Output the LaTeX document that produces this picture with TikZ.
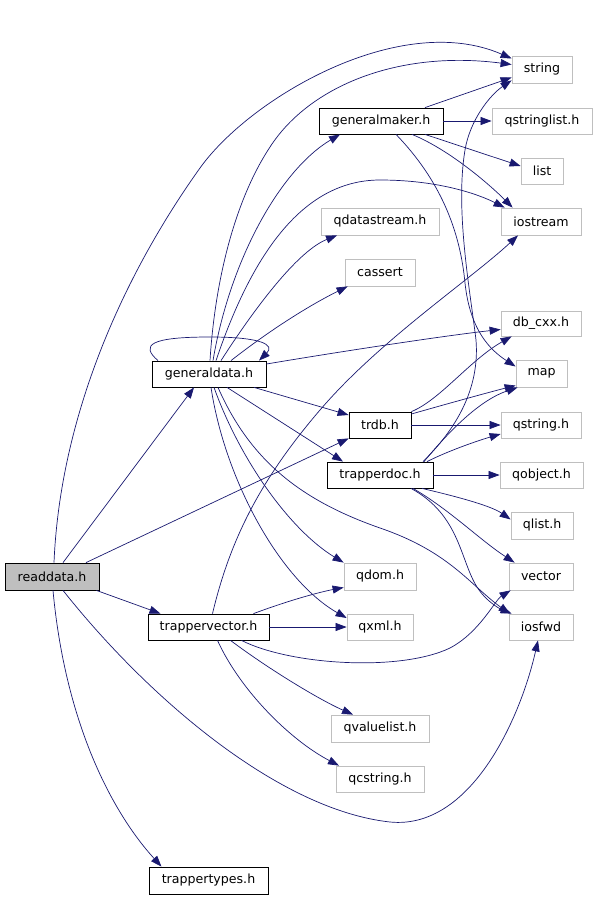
\documentclass[tikz,border=0pt]{standalone}
\usepackage{fontspec}
\setmainfont{DejaVu Sans}
\usepackage{tikz}
\usetikzlibrary{arrows.meta}
\usepackage{xcolor}

\definecolor{edgeblue}{RGB}{25,25,112}
\definecolor{boxgray}{RGB}{191,191,191}

\begin{document}
\begin{tikzpicture}[x=1pt, y=-1pt,
        % Define the styles for the headers and the include arrows
        hdr/.style={draw=black, line width=0.8pt, rectangle, inner sep=0pt,
            minimum height=26pt, font=\fontsize{12.6}{14}\selectfont},
        sys/.style={hdr, draw=boxgray},
        dep/.style={draw=edgeblue, line width=0.7pt,
            -{Triangle[length=11pt, width=8pt]}}]

        \useasboundingbox (0,0) rectangle (597,899);

        % 1. Place the headers (doxygen columns)
        \node[hdr, fill=boxgray, minimum width=94pt, minimum height=27pt] (readdata) at (52,576.5) {readdata.h};

        \node[hdr, minimum width=114pt] (generaldata) at (209,374) {generaldata.h};
        \node[hdr, minimum width=121pt] (trappervector) at (208.5,627) {trappervector.h};
        \node[hdr, minimum width=119pt, minimum height=27pt] (trappertypes) at (208.5,880.5) {trappertypes.h};

        \node[hdr, minimum width=124pt] (generalmaker) at (381,121) {generalmaker.h};
        \node[sys, minimum width=118pt, minimum height=27pt] (qdatastream) at (380,221.5) {qdatastream.h};
        \node[sys, minimum width=70pt, minimum height=27pt] (cassert) at (380,272.5) {cassert};
        \node[hdr, minimum width=62pt] (trdb) at (380,425) {trdb.h};
        \node[hdr, minimum width=106pt] (trapperdoc) at (380,475) {trapperdoc.h};
        \node[sys, minimum width=72pt, minimum height=27pt] (qdom) at (380,576.5) {qdom.h};
        \node[sys, minimum width=66pt] (qxml) at (380,627) {qxml.h};
        \node[sys, minimum width=98pt, minimum height=27pt] (qvaluelist) at (380,728.5) {qvaluelist.h};
        \node[sys, minimum width=88pt] (qcstring) at (380,779) {qcstring.h};

        \node[sys, minimum width=60pt, minimum height=27pt] (string) at (542,69.5) {string};
        \node[sys, minimum width=100pt] (qstringlist) at (542,121) {qstringlist.h};
        \node[sys, minimum width=42pt] (list) at (542,171) {list};
        \node[sys, minimum width=80pt, minimum height=27pt] (iostream) at (541,221.5) {iostream};
        \node[sys, minimum width=80pt, minimum height=25pt] (db_cxx) at (541,323.5) {db\_cxx.h};
        \node[sys, minimum width=51pt, minimum height=27pt] (map) at (541.5,373.5) {map};
        \node[sys, minimum width=80pt] (qstring) at (541,425) {qstring.h};
        \node[sys, minimum width=83pt] (qobject) at (541.5,475) {qobject.h};
        \node[sys, minimum width=62pt, minimum height=27pt] (qlist) at (542,525.5) {qlist.h};
        \node[sys, minimum width=64pt, minimum height=27pt] (vector) at (541,576.5) {vector};
        \node[sys, minimum width=64pt] (iosfwd) at (541,627) {iosfwd};

        % 2. Includes of readdata.h
        \draw[dep] ([xshift=2pt]readdata.north) .. controls (60,420) and (120,280) .. (200,168)
            .. controls (250,98) and (400,10) .. ([yshift=11pt]string.west);
        \draw[dep] ([xshift=11pt]readdata.north) -- ([xshift=-15pt]generaldata.south);
        \draw[dep] ([xshift=34pt]readdata.north) -- (trdb.south west);
        \draw[dep] ([xshift=-3pt]readdata.south east) -- ([xshift=-48pt]trappervector.north);
        \draw[dep] ([xshift=1pt]readdata.south) .. controls (65,720) and (110,810) .. ([xshift=-47pt]trappertypes.north);
        \draw[dep] ([xshift=11pt]readdata.south) .. controls (150,700) and (280,810) .. (390,822)
            .. controls (470,830) and (520,720) .. ([xshift=-3pt]iosfwd.south);

        % 3. Includes of generaldata.h
        \draw[dep] ([xshift=-51pt]generaldata.north) .. controls (140,345) and (150,337) .. (210,337)
            .. controls (262,337) and (275,345) .. ([xshift=50pt]generaldata.north);
        \draw[dep] ([xshift=4pt]generaldata.north) .. controls (230,260) and (280,170) .. ([xshift=-41pt]generalmaker.south);
        \draw[dep] ([xshift=1pt]generaldata.north) .. controls (215,280) and (235,200) .. (270,147)
            .. controls (310,85) and (400,50) .. ([yshift=5pt]string.west);
        \draw[dep] ([xshift=7pt]generaldata.north) .. controls (250,260) and (300,180) .. (380,180)
            .. controls (440,180) and (480,195) .. ([xshift=4pt]iostream.north west);
        \draw[dep] ([xshift=12pt]generaldata.north) .. controls (260,300) and (300,250) .. ([xshift=-43pt]qdatastream.south);
        \draw[dep] ([xshift=22pt]generaldata.north) .. controls (270,330) and (310,305) .. ([xshift=3pt]cassert.south west);
        \draw[dep] ([yshift=10pt]generaldata.east) .. controls (350,350) and (450,335) .. ([yshift=-6pt]db_cxx.west);
        \draw[dep] ([xshift=45pt]generaldata.south) -- ([yshift=10pt]trdb.west);
        \draw[dep] ([xshift=18pt]generaldata.south) -- ([xshift=-37pt]trapperdoc.north);
        \draw[dep] ([xshift=9pt]generaldata.south) .. controls (250,460) and (300,500) .. (380,528)
            .. controls (450,552) and (470,585) .. ([xshift=1pt]iosfwd.north west);
        \draw[dep] ([xshift=5pt]generaldata.south) .. controls (240,460) and (290,530) .. (qdom.north west);
        \draw[dep] ([xshift=2pt]generaldata.south) .. controls (225,480) and (280,580) .. ([yshift=9pt]qxml.west);

        % 4. Includes of trappervector.h
        \draw[dep] ([xshift=4pt]trappervector.north) .. controls (230,540) and (260,480) .. (320,410)
            .. controls (380,340) and (470,280) .. ([xshift=-23pt]iostream.south);
        \draw[dep] ([xshift=45pt]trappervector.north) .. controls (290,600) and (320,592) .. ([yshift=-11pt]qdom.west);
        \draw[dep] (trappervector.east) -- (qxml.west);
        \draw[dep] ([xshift=33pt]trappervector.south) .. controls (290,665) and (400,672) .. (450,648)
            .. controls (480,632) and (495,600) .. ([xshift=2pt]vector.south west);
        \draw[dep] ([xshift=22pt]trappervector.south) .. controls (270,670) and (320,700) .. ([xshift=-27pt]qvaluelist.north);
        \draw[dep] ([xshift=9pt]trappervector.south) .. controls (240,690) and (290,740) .. ([xshift=-41pt]qcstring.north);

        % 5. Includes of generalmaker.h
        \draw[dep] ([xshift=44pt]generalmaker.north) -- ([yshift=-8pt]string.west);
        \draw[dep] (generalmaker.east) -- (qstringlist.west);
        \draw[dep] ([xshift=44pt]generalmaker.south) -- ([yshift=5pt]list.west);
        \draw[dep] ([xshift=31pt]generalmaker.south) .. controls (450,150) and (490,185) .. ([xshift=12pt]iostream.north west);
        \draw[dep] ([xshift=15pt]generalmaker.south) .. controls (440,180) and (460,230) .. (465,283)
            .. controls (470,330) and (490,350) .. ([yshift=7pt]map.west);

        % 6. Includes of trdb.h
        \draw[dep] (trdb.north east) .. controls (440,400) and (470,360) .. ([xshift=11pt]db_cxx.south west);
        \draw[dep] ([yshift=11pt]trdb.east) .. controls (450,403) and (490,392) .. ([yshift=-12pt]map.west);
        \draw[dep] (trdb.east) -- (qstring.west);

        % 7. Includes of trapperdoc.h
        \draw[dep] ([xshift=43pt]trapperdoc.north) .. controls (455,430) and (480,390) .. (476,340)
            .. controls (470,290) and (455,210) .. (465,150)
            .. controls (470,120) and (490,95) .. ([yshift=3pt]string.south west);
        \draw[dep] ([xshift=44pt]trapperdoc.north) .. controls (450,430) and (480,400) .. ([xshift=2pt]map.south west);
        \draw[dep] ([xshift=47pt]trapperdoc.north) .. controls (450,450) and (480,440) .. ([yshift=-9pt]qstring.west);
        \draw[dep] (trapperdoc.east) -- (qobject.west);
        \draw[dep] ([xshift=42pt]trapperdoc.south) .. controls (450,495) and (490,505) .. ([yshift=6pt]qlist.west);
        \draw[dep] ([xshift=33pt]trapperdoc.south) .. controls (450,510) and (480,540) .. ([xshift=6pt]vector.north west);
        \draw[dep] ([xshift=31pt]trapperdoc.south) .. controls (460,515) and (460,560) .. (477,587)
            .. controls (485,600) and (498,608) .. ([xshift=3pt]iosfwd.north west);
    \end{tikzpicture}
\end{document}
